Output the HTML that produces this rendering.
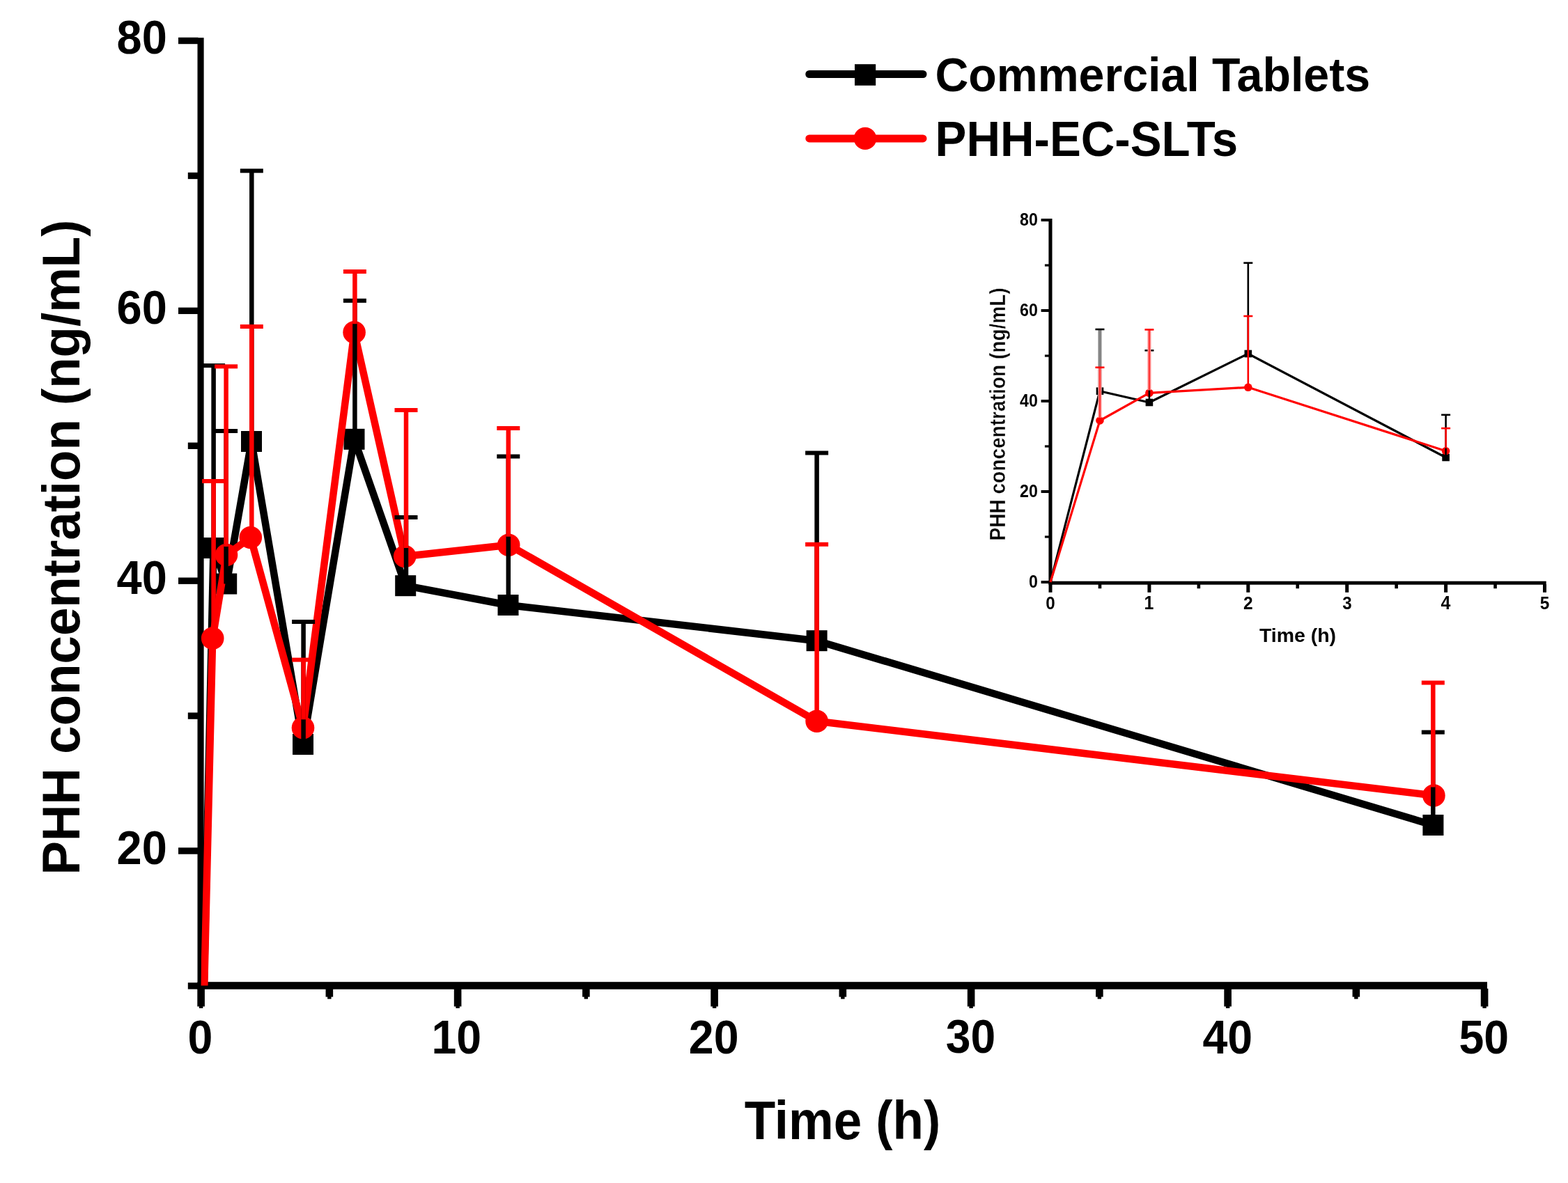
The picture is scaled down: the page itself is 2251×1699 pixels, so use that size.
<!DOCTYPE html><html><head><meta charset="utf-8"><title>PHH concentration vs time</title><style>html,body{margin:0;padding:0;background:#fff;overflow:hidden}svg{display:block}</style></head><body>
<svg width="2251" height="1699" viewBox="0 0 2251 1699">
<rect width="2251" height="1699" fill="#fff"/>
<rect x="283.5" y="54.2" width="9.1" height="1366.6" fill="#000"/>
<rect x="283.5" y="1410.2" width="1851.5" height="10.6" fill="#000"/>
<rect x="256" y="53.8" width="28.5" height="9.4" fill="#000"/>
<rect x="256" y="441.64" width="28.5" height="9.4" fill="#000"/>
<rect x="256" y="829.48" width="28.5" height="9.4" fill="#000"/>
<rect x="256" y="1217.32" width="28.5" height="9.4" fill="#000"/>
<rect x="269.8" y="247.72" width="14.7" height="9.4" fill="#000"/>
<rect x="269.8" y="635.56" width="14.7" height="9.4" fill="#000"/>
<rect x="269.8" y="1023.4" width="14.7" height="9.4" fill="#000"/>
<rect x="269.8" y="1411.24" width="14.7" height="9.4" fill="#000"/>
<rect x="283.3" y="1419.8" width="10.6" height="25.7" fill="#000"/>
<rect x="285.9" y="1445" width="5.4" height="3" fill="#000"/>
<rect x="651.8" y="1419.8" width="10.6" height="25.7" fill="#000"/>
<rect x="654.4" y="1445" width="5.4" height="3" fill="#000"/>
<rect x="1020.3" y="1419.8" width="10.6" height="25.7" fill="#000"/>
<rect x="1022.9" y="1445" width="5.4" height="3" fill="#000"/>
<rect x="1388.8" y="1419.8" width="10.6" height="25.7" fill="#000"/>
<rect x="1391.4" y="1445" width="5.4" height="3" fill="#000"/>
<rect x="1757.3" y="1419.8" width="10.6" height="25.7" fill="#000"/>
<rect x="1759.9" y="1445" width="5.4" height="3" fill="#000"/>
<rect x="2125.8" y="1419.8" width="10.6" height="25.7" fill="#000"/>
<rect x="2128.4" y="1445" width="5.4" height="3" fill="#000"/>
<rect x="467.55" y="1419.8" width="10.6" height="11.9" fill="#000"/>
<rect x="470.15" y="1431" width="5.4" height="3.7" fill="#000"/>
<rect x="836.05" y="1419.8" width="10.6" height="11.9" fill="#000"/>
<rect x="838.65" y="1431" width="5.4" height="3.7" fill="#000"/>
<rect x="1204.55" y="1419.8" width="10.6" height="11.9" fill="#000"/>
<rect x="1207.15" y="1431" width="5.4" height="3.7" fill="#000"/>
<rect x="1573.05" y="1419.8" width="10.6" height="11.9" fill="#000"/>
<rect x="1575.65" y="1431" width="5.4" height="3.7" fill="#000"/>
<rect x="1941.55" y="1419.8" width="10.6" height="11.9" fill="#000"/>
<rect x="1944.15" y="1431" width="5.4" height="3.7" fill="#000"/>
<text font-family="Liberation Sans, Arial, sans-serif" font-weight="bold" font-size="68.69" transform="translate(167.54,77.41) scale(0.9450,1)">80</text>
<text font-family="Liberation Sans, Arial, sans-serif" font-weight="bold" font-size="68.69" transform="translate(167.54,465.25) scale(0.9450,1)">60</text>
<text font-family="Liberation Sans, Arial, sans-serif" font-weight="bold" font-size="68.69" transform="translate(167.54,853.09) scale(0.9450,1)">40</text>
<text font-family="Liberation Sans, Arial, sans-serif" font-weight="bold" font-size="68.69" transform="translate(167.54,1240.93) scale(0.9450,1)">20</text>
<text font-family="Liberation Sans, Arial, sans-serif" font-weight="bold" font-size="68.13" transform="translate(269.53,1512.52) scale(0.9450,1)">0</text>
<text font-family="Liberation Sans, Arial, sans-serif" font-weight="bold" font-size="68.13" transform="translate(619.44,1512.52) scale(0.9450,1)">10</text>
<text font-family="Liberation Sans, Arial, sans-serif" font-weight="bold" font-size="68.13" transform="translate(988.83,1512.52) scale(0.9450,1)">20</text>
<text font-family="Liberation Sans, Arial, sans-serif" font-weight="bold" font-size="67.89" transform="translate(1357.86,1512.35) scale(0.9450,1)">30</text>
<text font-family="Liberation Sans, Arial, sans-serif" font-weight="bold" font-size="68.13" transform="translate(1726.47,1512.52) scale(0.9450,1)">40</text>
<text font-family="Liberation Sans, Arial, sans-serif" font-weight="bold" font-size="68.13" transform="translate(2094.49,1512.52) scale(0.9450,1)">50</text>
<text font-family="Liberation Sans, Arial, sans-serif" font-weight="bold" font-size="77.96" transform="translate(1068.77,1636) scale(0.9329,1)">Time (h)</text>
<text font-family="Liberation Sans, Arial, sans-serif" font-weight="bold" font-size="75.35" transform="translate(114.4,1256.41) rotate(-90) scale(0.9649,1)">PHH concentration (ng/mL)</text>
<defs><clipPath id="pc"><rect x="288.6" y="40" width="1842.4" height="1375.5"/></clipPath><clipPath id="ic"><rect x="1508" y="300" width="720" height="536"/></clipPath></defs>
<g clip-path="url(#pc)">
<polyline points="288.6,1609.86 306.5,787 325.2,838.5 361,634 435,1069 508.5,630.8 582.2,841.2 729.5,869 1172.6,920.2 2057.4,1185" fill="none" stroke="#000" stroke-width="10.5" stroke-linejoin="round"/>
<rect x="291.5" y="772" width="30" height="30" fill="#000"/>
<rect x="310.2" y="823.5" width="30" height="30" fill="#000"/>
<rect x="346" y="619" width="30" height="30" fill="#000"/>
<rect x="420" y="1054" width="30" height="30" fill="#000"/>
<rect x="493.5" y="615.8" width="30" height="30" fill="#000"/>
<rect x="567.2" y="826.2" width="30" height="30" fill="#000"/>
<rect x="714.5" y="854" width="30" height="30" fill="#000"/>
<rect x="1157.6" y="905.2" width="30" height="30" fill="#000"/>
<rect x="2042.4" y="1170" width="30" height="30" fill="#000"/>
<polyline points="288.6,1609.86 305.2,916.7 325,797 359.8,772 435,1045.3 508.6,477.2 581.2,799 730.2,782.7 1172.6,1035.8 2058.4,1142.5" fill="none" stroke="#f00" stroke-width="10.5" stroke-linejoin="round"/>
<circle cx="305.2" cy="916.7" r="16.3" fill="#f00"/>
<circle cx="325" cy="797" r="16.3" fill="#f00"/>
<circle cx="359.8" cy="772" r="16.3" fill="#f00"/>
<circle cx="435" cy="1045.3" r="16.3" fill="#f00"/>
<circle cx="508.6" cy="477.2" r="16.3" fill="#f00"/>
<circle cx="581.2" cy="799" r="16.3" fill="#f00"/>
<circle cx="730.2" cy="782.7" r="16.3" fill="#f00"/>
<circle cx="1172.6" cy="1035.8" r="16.3" fill="#f00"/>
<circle cx="2058.4" cy="1142.5" r="16.3" fill="#f00"/>
<rect x="303.35" y="525" width="6.5" height="262" fill="#000"/>
<rect x="290.1" y="522" width="33" height="6" fill="#000"/>
<rect x="321.35" y="619" width="6.5" height="219.5" fill="#000"/>
<rect x="308.1" y="616" width="33" height="6" fill="#000"/>
<rect x="358.05" y="245.3" width="6.5" height="388.7" fill="#000"/>
<rect x="344.8" y="242.3" width="33" height="6" fill="#000"/>
<rect x="432.35" y="893" width="6.5" height="176" fill="#000"/>
<rect x="419.1" y="890" width="33" height="6" fill="#000"/>
<rect x="506.15" y="431.8" width="6.5" height="199" fill="#000"/>
<rect x="492.9" y="428.8" width="33" height="6" fill="#000"/>
<rect x="579.75" y="743" width="6.5" height="98.2" fill="#000"/>
<rect x="566.5" y="740" width="33" height="6" fill="#000"/>
<rect x="726.55" y="655.5" width="6.5" height="213.5" fill="#000"/>
<rect x="713.3" y="652.5" width="33" height="6" fill="#000"/>
<rect x="1169.35" y="650.5" width="6.5" height="269.7" fill="#000"/>
<rect x="1156.1" y="647.5" width="33" height="6" fill="#000"/>
<rect x="2054.05" y="1051.6" width="6.5" height="133.4" fill="#000"/>
<rect x="2040.8" y="1048.6" width="33" height="6" fill="#000"/>
<rect x="303.35" y="691" width="6.5" height="213.7" fill="#f00"/>
<rect x="290.1" y="688" width="33" height="6" fill="#f00"/>
<rect x="321.35" y="526.3" width="6.5" height="258.7" fill="#f00"/>
<rect x="308.1" y="523.3" width="33" height="6" fill="#f00"/>
<rect x="358.05" y="469" width="6.5" height="291" fill="#f00"/>
<rect x="344.8" y="466" width="33" height="6" fill="#f00"/>
<rect x="432.35" y="947.6" width="6.5" height="85.7" fill="#f00"/>
<rect x="419.1" y="944.6" width="33" height="6" fill="#f00"/>
<rect x="506.15" y="390" width="6.5" height="75.2" fill="#f00"/>
<rect x="492.9" y="387" width="33" height="6" fill="#f00"/>
<rect x="579.75" y="589" width="6.5" height="198" fill="#f00"/>
<rect x="566.5" y="586" width="33" height="6" fill="#f00"/>
<rect x="726.55" y="615" width="6.5" height="155.7" fill="#f00"/>
<rect x="713.3" y="612" width="33" height="6" fill="#f00"/>
<rect x="1169.35" y="781.8" width="6.5" height="242" fill="#f00"/>
<rect x="1156.1" y="778.8" width="33" height="6" fill="#f00"/>
<rect x="2054.05" y="980.5" width="6.5" height="150" fill="#f00"/>
<rect x="2040.8" y="977.5" width="33" height="6" fill="#f00"/>
</g>
<line x1="1161.8" y1="106.5" x2="1325" y2="106.5" stroke="#000" stroke-width="11" stroke-linecap="round"/>
<rect x="1227" y="92.2" width="30.2" height="30.6" fill="#000"/>
<line x1="1161.8" y1="198.9" x2="1325" y2="198.9" stroke="#f00" stroke-width="11" stroke-linecap="round"/>
<circle cx="1242" cy="198.9" r="16.2" fill="#f00"/>
<text font-family="Liberation Sans, Arial, sans-serif" font-weight="bold" font-size="68.51" transform="translate(1342.45,130.7) scale(0.9671,1)">Commercial Tablets</text>
<text font-family="Liberation Sans, Arial, sans-serif" font-weight="bold" font-size="70.4" transform="translate(1342.56,223.6) scale(0.9553,1)">PHH-EC-SLTs</text>
<rect x="1505.4" y="314" width="5.1" height="525.7" fill="#000"/>
<rect x="1505.4" y="834.7" width="714.3" height="5" fill="#000"/>
<rect x="1494.6" y="314" width="11.4" height="4" fill="#000"/>
<rect x="1494.6" y="444" width="11.4" height="4" fill="#000"/>
<rect x="1494.6" y="574" width="11.4" height="4" fill="#000"/>
<rect x="1494.6" y="704" width="11.4" height="4" fill="#000"/>
<rect x="1494.6" y="834" width="11.4" height="4" fill="#000"/>
<rect x="1499.9" y="379.4" width="6.1" height="3.2" fill="#000"/>
<rect x="1499.9" y="509.4" width="6.1" height="3.2" fill="#000"/>
<rect x="1499.9" y="639.4" width="6.1" height="3.2" fill="#000"/>
<rect x="1499.9" y="769.4" width="6.1" height="3.2" fill="#000"/>
<rect x="1505.5" y="839" width="5" height="11.8" fill="#000"/>
<rect x="1647.4" y="839" width="5" height="11.8" fill="#000"/>
<rect x="1789.3" y="839" width="5" height="11.8" fill="#000"/>
<rect x="1931.2" y="839" width="5" height="11.8" fill="#000"/>
<rect x="2073.1" y="839" width="5" height="11.8" fill="#000"/>
<rect x="2215" y="839" width="5" height="11.8" fill="#000"/>
<rect x="1576.65" y="839" width="4.6" height="6.2" fill="#000"/>
<rect x="1718.55" y="839" width="4.6" height="6.2" fill="#000"/>
<rect x="1860.45" y="839" width="4.6" height="6.2" fill="#000"/>
<rect x="2002.35" y="839" width="4.6" height="6.2" fill="#000"/>
<rect x="2144.25" y="839" width="4.6" height="6.2" fill="#000"/>
<text font-family="Liberation Sans, Arial, sans-serif" font-weight="bold" font-size="25.16" transform="translate(1464.03,323.65) scale(0.9200,1)">80</text>
<text font-family="Liberation Sans, Arial, sans-serif" font-weight="bold" font-size="25.16" transform="translate(1464.03,453.65) scale(0.9200,1)">60</text>
<text font-family="Liberation Sans, Arial, sans-serif" font-weight="bold" font-size="25.16" transform="translate(1464.03,583.65) scale(0.9200,1)">40</text>
<text font-family="Liberation Sans, Arial, sans-serif" font-weight="bold" font-size="25.16" transform="translate(1464.03,713.65) scale(0.9200,1)">20</text>
<text font-family="Liberation Sans, Arial, sans-serif" font-weight="bold" font-size="25.16" transform="translate(1476.88,843.65) scale(0.9200,1)">0</text>
<text font-family="Liberation Sans, Arial, sans-serif" font-weight="bold" font-size="26.29" transform="translate(1501.29,874.94) scale(0.9200,1)">0</text>
<text font-family="Liberation Sans, Arial, sans-serif" font-weight="bold" font-size="27.05" transform="translate(1642.56,875.2) scale(0.9200,1)">1</text>
<text font-family="Liberation Sans, Arial, sans-serif" font-weight="bold" font-size="26.67" transform="translate(1785.05,875.2) scale(0.9200,1)">2</text>
<text font-family="Liberation Sans, Arial, sans-serif" font-weight="bold" font-size="26.2" transform="translate(1927.16,874.87) scale(0.9200,1)">3</text>
<text font-family="Liberation Sans, Arial, sans-serif" font-weight="bold" font-size="27.05" transform="translate(2068.57,875.2) scale(0.9200,1)">4</text>
<text font-family="Liberation Sans, Arial, sans-serif" font-weight="bold" font-size="26.67" transform="translate(2210.66,874.93) scale(0.9200,1)">5</text>
<text font-family="Liberation Sans, Arial, sans-serif" font-weight="bold" font-size="27.2" transform="translate(1807.92,921.8) scale(1.0470,1)">Time (h)</text>
<text font-family="Liberation Sans, Arial, sans-serif" font-weight="bold" font-size="31.85" stroke="#fff" stroke-width="0.4" transform="translate(1442.5,776.6) rotate(-90) scale(0.8818,1)">PHH concentration (ng/mL)</text>
<g>
<polyline points="1508,836 1578.95,561.7 1649.9,578 1791.8,508 2075.6,657" fill="none" stroke="#000" stroke-width="3.2" stroke-linejoin="round"/>
<rect x="1573.65" y="556.4" width="10.6" height="10.6" fill="#000"/>
<rect x="1644.6" y="572.7" width="10.6" height="10.6" fill="#000"/>
<rect x="1786.5" y="502.7" width="10.6" height="10.6" fill="#000"/>
<rect x="2070.3" y="651.7" width="10.6" height="10.6" fill="#000"/>
<polyline points="1508,836 1578.95,604 1649.9,564.4 1791.8,556.3 2075.6,647.7" fill="none" stroke="#f00" stroke-width="3.2" stroke-linejoin="round"/>
<circle cx="1578.95" cy="604" r="5.8" fill="#f00"/>
<circle cx="1649.9" cy="564.4" r="5.8" fill="#f00"/>
<circle cx="1791.8" cy="556.3" r="5.8" fill="#f00"/>
<circle cx="2075.6" cy="647.7" r="5.8" fill="#f00"/>
<rect x="1576.45" y="473" width="5" height="88.7" fill="#858585"/>
<rect x="1572.45" y="471.7" width="13" height="2.6" fill="#000"/>
<rect x="1648.6" y="503.3" width="2.6" height="74.7" fill="#000"/>
<rect x="1643.4" y="502" width="13" height="2.6" fill="#000"/>
<rect x="1790.5" y="377.6" width="2.6" height="130.4" fill="#000"/>
<rect x="1785.3" y="376.3" width="13" height="2.6" fill="#000"/>
<rect x="2074.3" y="595.8" width="2.6" height="61.2" fill="#000"/>
<rect x="2069.1" y="594.5" width="13" height="2.6" fill="#000"/>
<rect x="1576.45" y="527.7" width="5" height="72.3" fill="#ff8a8a"/>
<rect x="1578.15" y="527.7" width="1.6" height="72.3" fill="#f22"/>
<rect x="1572.45" y="526.4" width="13" height="2.6" fill="#f00"/>
<rect x="1647.4" y="473.4" width="5" height="87" fill="#ff8a8a"/>
<rect x="1649.1" y="473.4" width="1.6" height="87" fill="#f22"/>
<rect x="1643.4" y="472.1" width="13" height="2.6" fill="#f00"/>
<rect x="1790.5" y="454" width="2.6" height="98.3" fill="#f00"/>
<rect x="1785.3" y="452.7" width="13" height="2.6" fill="#f00"/>
<rect x="2074.3" y="615.1" width="2.6" height="28.6" fill="#f00"/>
<rect x="2069.1" y="613.8" width="13" height="2.6" fill="#f00"/>
</g>
</svg></body></html>
